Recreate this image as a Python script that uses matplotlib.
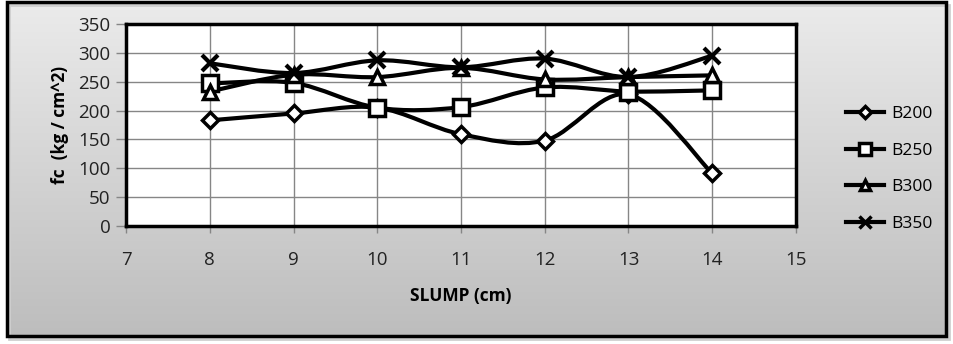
import numpy as np
import matplotlib
matplotlib.use("Agg")
import matplotlib.pyplot as plt
from matplotlib.path import Path
from matplotlib.patches import PathPatch, Rectangle

plt.rcParams["font.family"] = ["Open Sans", "DejaVu Sans"]

slump = [8, 9, 10, 11, 12, 13, 14]
b200 = [183, 195, 205, 159, 148, 228, 91]
b250 = [247, 248, 205, 206, 240, 233, 235]
b300 = [233, 262, 258, 274, 254, 258, 261]
b350 = [282, 265, 287, 275, 290, 258, 295]
labels = ["B200", "B250", "B300", "B350"]
markers = ["D", "s", "^", "x"]
msizes = [8, 11, 10, 11]


def smooth_path(xs, ys, t=1.0 / 6):
    # Excel-style smoothed line as cubic bezier segments
    pts = np.column_stack([xs, ys]).astype(float)
    verts = [pts[0]]
    codes = [Path.MOVETO]
    n = len(pts)
    for i in range(n - 1):
        p0 = pts[max(i - 1, 0)]
        p1 = pts[i]
        p2 = pts[i + 1]
        p3 = pts[min(i + 2, n - 1)]
        c1 = p1 + (p2 - p0) * t
        c2 = p2 - (p3 - p1) * t
        verts += [c1, c2, p2]
        codes += [Path.CURVE4] * 3
    return Path(verts, codes)


fig = plt.figure(figsize=(9.54, 3.44), dpi=100)
fig.patch.set_facecolor("white")

# gradient background with border
bg = fig.add_axes([0, 0, 1, 1], zorder=-5)
bg.set_xlim(0, 954)
bg.set_ylim(344, 0)
bg.axis("off")
grad = np.linspace(0, 1, 256).reshape(-1, 1)
cmap = matplotlib.colors.LinearSegmentedColormap.from_list("g", ["#ebebeb", "#bdbdbd"])
bg.imshow(grad, cmap=cmap, extent=[7, 946, 336, 2], aspect="auto")
bg.add_patch(Rectangle((9, 5), 940, 334, fill=False, edgecolor="#cfcfcf", lw=2))
bg.add_patch(Rectangle((7, 2), 939, 334, fill=False, edgecolor="black", lw=2.5))

ax = fig.add_axes([126 / 954, 1 - 226 / 344, (796 - 126) / 954, (226 - 24) / 344])
ax.set_facecolor("white")
ax.set_xlim(7, 15)
ax.set_ylim(0, 350)
ax.set_xticks(range(7, 16))
ax.set_yticks(range(0, 351, 50))
ax.grid(True, color="#868686", lw=1)
ax.set_axisbelow(True)
for s in ax.spines.values():
    s.set_linewidth(2.5)
    s.set_color("black")
ax.tick_params(axis="both", color="#868686", width=1, labelsize=13.5,
               labelcolor="#222222")
ax.tick_params(axis="x", length=5, pad=13)
ax.tick_params(axis="y", length=7, pad=4)

for ys, lab, mk, ms in zip([b200, b250, b300, b350], labels, markers, msizes):
    ax.add_patch(PathPatch(smooth_path(slump, ys), fill=False, lw=3, edgecolor="black",
                           zorder=3))
    mew = 3 if mk == "x" else 2.5
    ax.plot(slump, ys, linestyle="None", marker=mk, ms=ms,
            markerfacecolor="white", markeredgecolor="black", markeredgewidth=mew,
            zorder=4)

ax.set_xlabel("SLUMP (cm)", fontsize=12.5, fontweight="bold", labelpad=13)
ax.set_ylabel("fc  (kg / cm^2)", fontsize=12.5, fontweight="bold", labelpad=7)

# legend drawn with proxy handles (line + marker)
handles = []
for lab, mk, ms in zip(labels, markers, msizes):
    h, = ax.plot([], [], color="black", lw=3, marker=mk, ms=ms * 0.75,
                 markerfacecolor="white", markeredgecolor="black",
                 markeredgewidth=2.5)
    handles.append(h)
fig.legend(handles, labels, loc="center left", bbox_to_anchor=(830 / 954, 1 - 169 / 344),
           frameon=False, fontsize=12.5, handlelength=2.2, labelspacing=1.18,
           handletextpad=0.4)

fig.savefig("out.png", dpi=100)
